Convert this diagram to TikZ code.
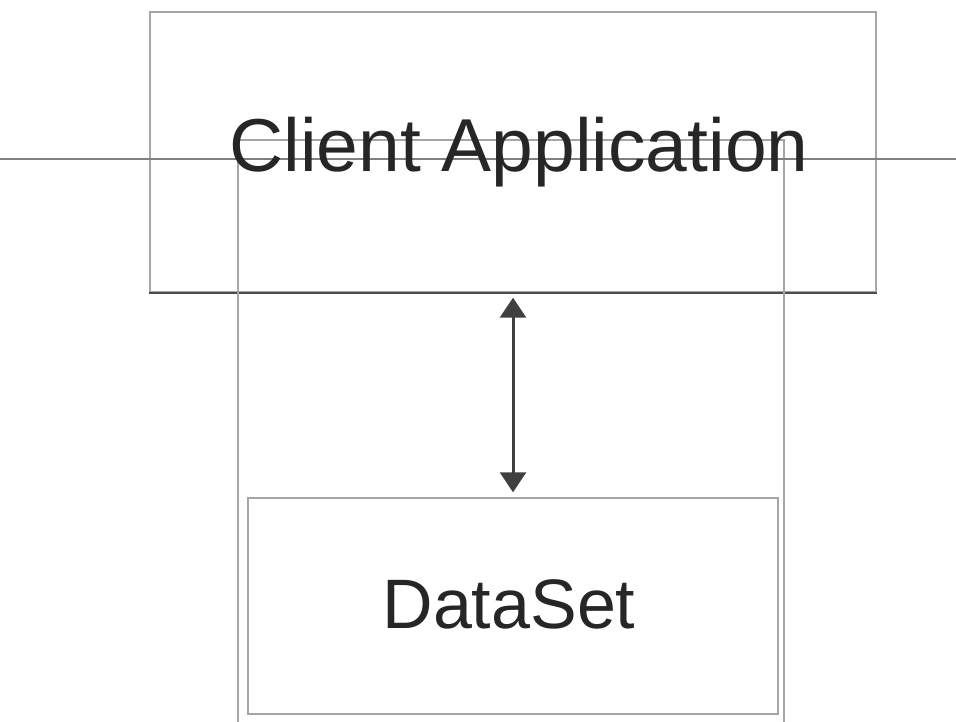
\documentclass[tikz,border=0pt]{standalone}
\usepackage{fontspec}
\setmainfont{Liberation Sans}
\usetikzlibrary{arrows.meta}
\begin{document}
\begin{tikzpicture}[x=1pt,y=-1pt,
  boxline/.style={draw=black!60, line width=1.6pt, inner sep=0pt},
  lightbox/.style={draw=black!35, line width=1.4pt, inner sep=0pt},
  bigtext/.style={font=\fontsize{75}{80}\selectfont, text=black!85, inner sep=0pt},
  dstext/.style={font=\fontsize{70}{75}\selectfont, text=black!85, inner sep=0pt},
  flow/.style={{Triangle[width=26pt,length=20pt]}-{Triangle[width=26pt,length=20pt]}, line width=3pt, draw=black!75}]
\useasboundingbox (0,0) rectangle (956,722);
% outer box
\node[lightbox, minimum width=726pt, minimum height=280pt] (outer) at (513,152) {};
\draw[draw=black!70, line width=2pt] (outer.south west) -- (outer.south east);
% client application box
\node[lightbox, minimum width=546pt, minimum height=600pt] (client) at (511,440) {};
% horizontal line through everything
\coordinate (L) at (0,159);
\coordinate (R) at (956,159);
\draw[draw=black!50, line width=2.5pt] (L) -- (R);
% title
\node[bigtext, anchor=base] (title) at (519,172) {Client Application};
% DataSet box
\node[lightbox, minimum width=530pt, minimum height=216pt] (ds) at (513,606) {};
\node[dstext, anchor=base] (dslabel) at (509,628) {DataSet};
% arrow
\draw[flow, shorten <=5pt, shorten >=5pt] (outer.south) -- (ds.north);
\end{tikzpicture}
\end{document}
